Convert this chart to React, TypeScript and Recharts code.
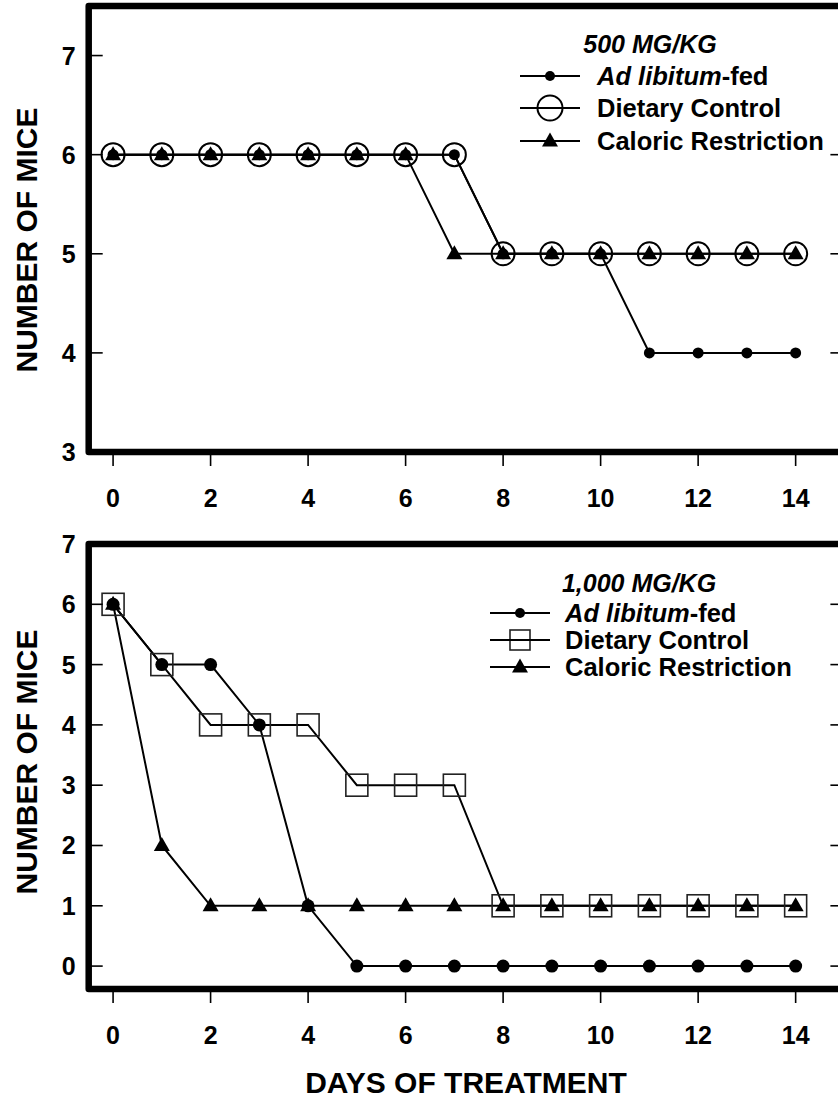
import React from 'react';
import { LineChart, Line, XAxis, YAxis, ReferenceArea, Legend, Label } from 'recharts';

const days = [0, 1, 2, 3, 4, 5, 6, 7, 8, 9, 10, 11, 12, 13, 14];
const xTicks = [0, 2, 4, 6, 8, 10, 12, 14];

// 500 MG/KG panel
const topAdLib = [6, 6, 6, 6, 6, 6, 6, 6, 5, 5, 5, 4, 4, 4, 4];
const topDietary = [6, 6, 6, 6, 6, 6, 6, 6, 5, 5, 5, 5, 5, 5, 5];
const topCaloric = [6, 6, 6, 6, 6, 6, 6, 5, 5, 5, 5, 5, 5, 5, 5];
const topYTicks = [3, 4, 5, 6, 7];
const topRightTicks = [4, 5, 6];

// 1,000 MG/KG panel
const botAdLib = [6, 5, 5, 4, 1, 0, 0, 0, 0, 0, 0, 0, 0, 0, 0];
const botDietary = [6, 5, 4, 4, 4, 3, 3, 3, 1, 1, 1, 1, 1, 1, 1];
const botCaloric = [6, 2, 1, 1, 1, 1, 1, 1, 1, 1, 1, 1, 1, 1, 1];
const botYTicks = [0, 1, 2, 3, 4, 5, 6, 7];
const botRightTicks = [0, 1, 2, 3, 4, 5, 6];

const topData = days.map((d, i) => ({ day: d, adlib: topAdLib[i], dietary: topDietary[i], caloric: topCaloric[i] }));
const botData = days.map((d, i) => ({ day: d, adlib: botAdLib[i], dietary: botDietary[i], caloric: botCaloric[i] }));

const FONT = '"Liberation Sans", Arial, Helvetica, sans-serif';

const triPoints = (cx: number, cy: number) =>
  `${cx},${cy - 8.5} ${cx + 8},${cy + 5.5} ${cx - 8},${cy + 5.5}`;

const makeDot = (kind: string, size: number) => (props: any) => {
  const { cx, cy, index } = props;
  const key = `${kind}-${index}`;
  if (cx == null || cy == null) return <g key={key} />;
  if (kind === 'filled') return <circle key={key} cx={cx} cy={cy} r={size} fill="#000" />;
  if (kind === 'open') return <circle key={key} cx={cx} cy={cy} r={size} fill="none" stroke="#000" strokeWidth={2} />;
  if (kind === 'square')
    return <rect key={key} x={cx - size / 2} y={cy - size / 2} width={size} height={size} fill="none" stroke="#222" strokeWidth={1.6} />;
  return <polygon key={key} points={triPoints(cx, cy)} fill="#000" />;
};

const LeftTick = (props: any) => {
  const { x, y, payload } = props;
  return (
    <g>
      <line x1={x} y1={y} x2={x + 14} y2={y} stroke="#000" strokeWidth={1.6} />
      <text x={x - 13} y={y} dy="0.36em" textAnchor="end" fontFamily={FONT} fontWeight="bold" fontSize={25} fill="#000">
        {payload.value}
      </text>
    </g>
  );
};

const RightTick = (props: any) => {
  const { x, y } = props;
  return <line x1={x - 14} y1={y} x2={x} y2={y} stroke="#000" strokeWidth={1.6} />;
};

const LegendBox = ({ title, open, rowY, titleX, titleY, lineX1, lineX2, textX }: any) => (
  <svg width={360} height={150} style={{ overflow: 'visible' }}>
    <text x={titleX} y={titleY} dy="0.36em" textAnchor="middle" fontFamily={FONT} fontWeight="bold" fontStyle="italic" fontSize={25} fill="#000">
      {title}
    </text>
    {rowY.map((y: number, i: number) => {
      const mx = (lineX1 + lineX2) / 2;
      let marker;
      if (i === 0) marker = <circle cx={mx} cy={y} r={5} fill="#000" />;
      else if (i === 1)
        marker = open === 'circle'
          ? <circle cx={mx} cy={y} r={12.5} fill="#fff" stroke="#000" strokeWidth={2} />
          : <rect x={mx - 10} y={y - 10} width={20} height={20} fill="#fff" stroke="#222" strokeWidth={1.6} />;
      else marker = <polygon points={triPoints(mx, y)} fill="#000" />;
      const label = i === 0
        ? (<><tspan fontStyle="italic">Ad libitum</tspan><tspan>-fed</tspan></>)
        : i === 1 ? 'Dietary Control' : 'Caloric Restriction';
      return (
        <g key={i}>
          <line x1={lineX1} y1={y} x2={lineX2} y2={y} stroke="#000" strokeWidth={2} />
          {i === 1 ? (
            <>
              {marker}
              <line x1={lineX1} y1={y} x2={lineX2} y2={y} stroke="#000" strokeWidth={2} />
            </>
          ) : marker}
          <text x={textX} y={y} dy="0.36em" fontFamily={FONT} fontWeight="bold" fontSize={25.5} fill="#000">
            {label}
          </text>
        </g>
      );
    })}
  </svg>
);

const titleStyle = { fontFamily: FONT, fontWeight: 'bold', fontSize: 30, fill: '#000' } as const;

export default function App() {
  return (
    <div style={{ position: 'absolute', left: 0, top: 0, width: 838, height: 1099, overflow: 'hidden', background: '#fff' }}>
      <div style={{ position: 'absolute', left: 0, top: 0 }}>
        <LineChart width={900} height={520} data={topData} margin={{ top: 6, right: 35.6, bottom: 8, left: 28.7 }}>
          <XAxis dataKey="day" type="number" domain={[-0.5, 15]} ticks={xTicks} interval={0} allowDataOverflow
            axisLine={false} tickSize={14} tickMargin={23} height={60}
            tickLine={{ stroke: '#000', strokeWidth: 1.6 }}
            tick={{ fontFamily: FONT, fontWeight: 'bold', fontSize: 25, fill: '#000' }} />
          <YAxis yAxisId="l" type="number" domain={[3, 7.5]} ticks={topYTicks} interval={0} allowDataOverflow
            width={60} axisLine={false} tickLine={false} tickSize={0} tickMargin={0} tick={<LeftTick />}>
            <Label content={() => (
              <text x={26} y={240} transform="rotate(-90 26 240)" textAnchor="middle" dy="0.36em" style={titleStyle}>NUMBER OF MICE</text>
            )} />
          </YAxis>
          <YAxis yAxisId="r" orientation="right" type="number" domain={[3, 7.5]} ticks={topRightTicks} interval={0} allowDataOverflow
            width={20} axisLine={false} tickLine={false} tickSize={0} tickMargin={0} tick={<RightTick />} />
          <ReferenceArea yAxisId="l" x1={-0.5} x2={15} y1={3} y2={7.5} fill="none" fillOpacity={0} stroke="#000" strokeWidth={6.5} strokeLinejoin="round" ifOverflow="visible" />
          <Line yAxisId="l" dataKey="dietary" type="linear" stroke="#000" strokeWidth={2} dot={makeDot('open', 11.5)} activeDot={false} isAnimationActive={false} />
          <Line yAxisId="l" dataKey="adlib" type="linear" stroke="#000" strokeWidth={2} dot={makeDot('filled', 5.5)} activeDot={false} isAnimationActive={false} />
          <Line yAxisId="l" dataKey="caloric" type="linear" stroke="#000" strokeWidth={2} dot={makeDot('tri', 0)} activeDot={false} isAnimationActive={false} />
          <Legend layout="vertical" align="center" verticalAlign="middle"
            wrapperStyle={{ left: 480, top: 20, width: 360, height: 150 }}
            content={() => (
              <LegendBox title="500 MG/KG" open="circle" rowY={[56, 88, 121]} titleX={170} titleY={24}
                lineX1={40} lineX2={100} textX={117} />
            )} />
        </LineChart>
      </div>
      <div style={{ position: 'absolute', left: 0, top: 508 }}>
        <LineChart width={900} height={591} data={botData} margin={{ top: 36, right: 35.6, bottom: 50, left: 28.7 }}>
          <XAxis dataKey="day" type="number" domain={[-0.5, 15]} ticks={xTicks} interval={0} allowDataOverflow
            axisLine={false} tickSize={14} tickMargin={23} height={60}
            tickLine={{ stroke: '#000', strokeWidth: 1.6 }}
            tick={{ fontFamily: FONT, fontWeight: 'bold', fontSize: 25, fill: '#000' }}>
            <Label content={() => (
              <text x={466} y={574} textAnchor="middle" dy="0.36em" style={titleStyle}>DAYS OF TREATMENT</text>
            )} />
          </XAxis>
          <YAxis yAxisId="l" type="number" domain={[-0.38, 7]} ticks={botYTicks} interval={0} allowDataOverflow
            width={60} axisLine={false} tickLine={false} tickSize={0} tickMargin={0} tick={<LeftTick />}>
            <Label content={() => (
              <text x={26} y={254} transform="rotate(-90 26 254)" textAnchor="middle" dy="0.36em" style={titleStyle}>NUMBER OF MICE</text>
            )} />
          </YAxis>
          <YAxis yAxisId="r" orientation="right" type="number" domain={[-0.38, 7]} ticks={botRightTicks} interval={0} allowDataOverflow
            width={20} axisLine={false} tickLine={false} tickSize={0} tickMargin={0} tick={<RightTick />} />
          <ReferenceArea yAxisId="l" x1={-0.5} x2={15} y1={-0.38} y2={7} fill="none" fillOpacity={0} stroke="#000" strokeWidth={6.5} strokeLinejoin="round" ifOverflow="visible" />
          <Line yAxisId="l" dataKey="dietary" type="linear" stroke="#000" strokeWidth={2} dot={makeDot('square', 22)} activeDot={false} isAnimationActive={false} />
          <Line yAxisId="l" dataKey="caloric" type="linear" stroke="#000" strokeWidth={2} dot={makeDot('tri', 0)} activeDot={false} isAnimationActive={false} />
          <Line yAxisId="l" dataKey="adlib" type="linear" stroke="#000" strokeWidth={2} dot={makeDot('filled', 6.5)} activeDot={false} isAnimationActive={false} />
          <Legend layout="vertical" align="center" verticalAlign="middle"
            wrapperStyle={{ left: 460, top: 50, width: 360, height: 150 }}
            content={() => (
              <LegendBox title="1,000 MG/KG" open="square" rowY={[55, 82, 109]} titleX={179} titleY={25}
                lineX1={30} lineX2={90} textX={105} />
            )} />
        </LineChart>
      </div>
    </div>
  );
}
